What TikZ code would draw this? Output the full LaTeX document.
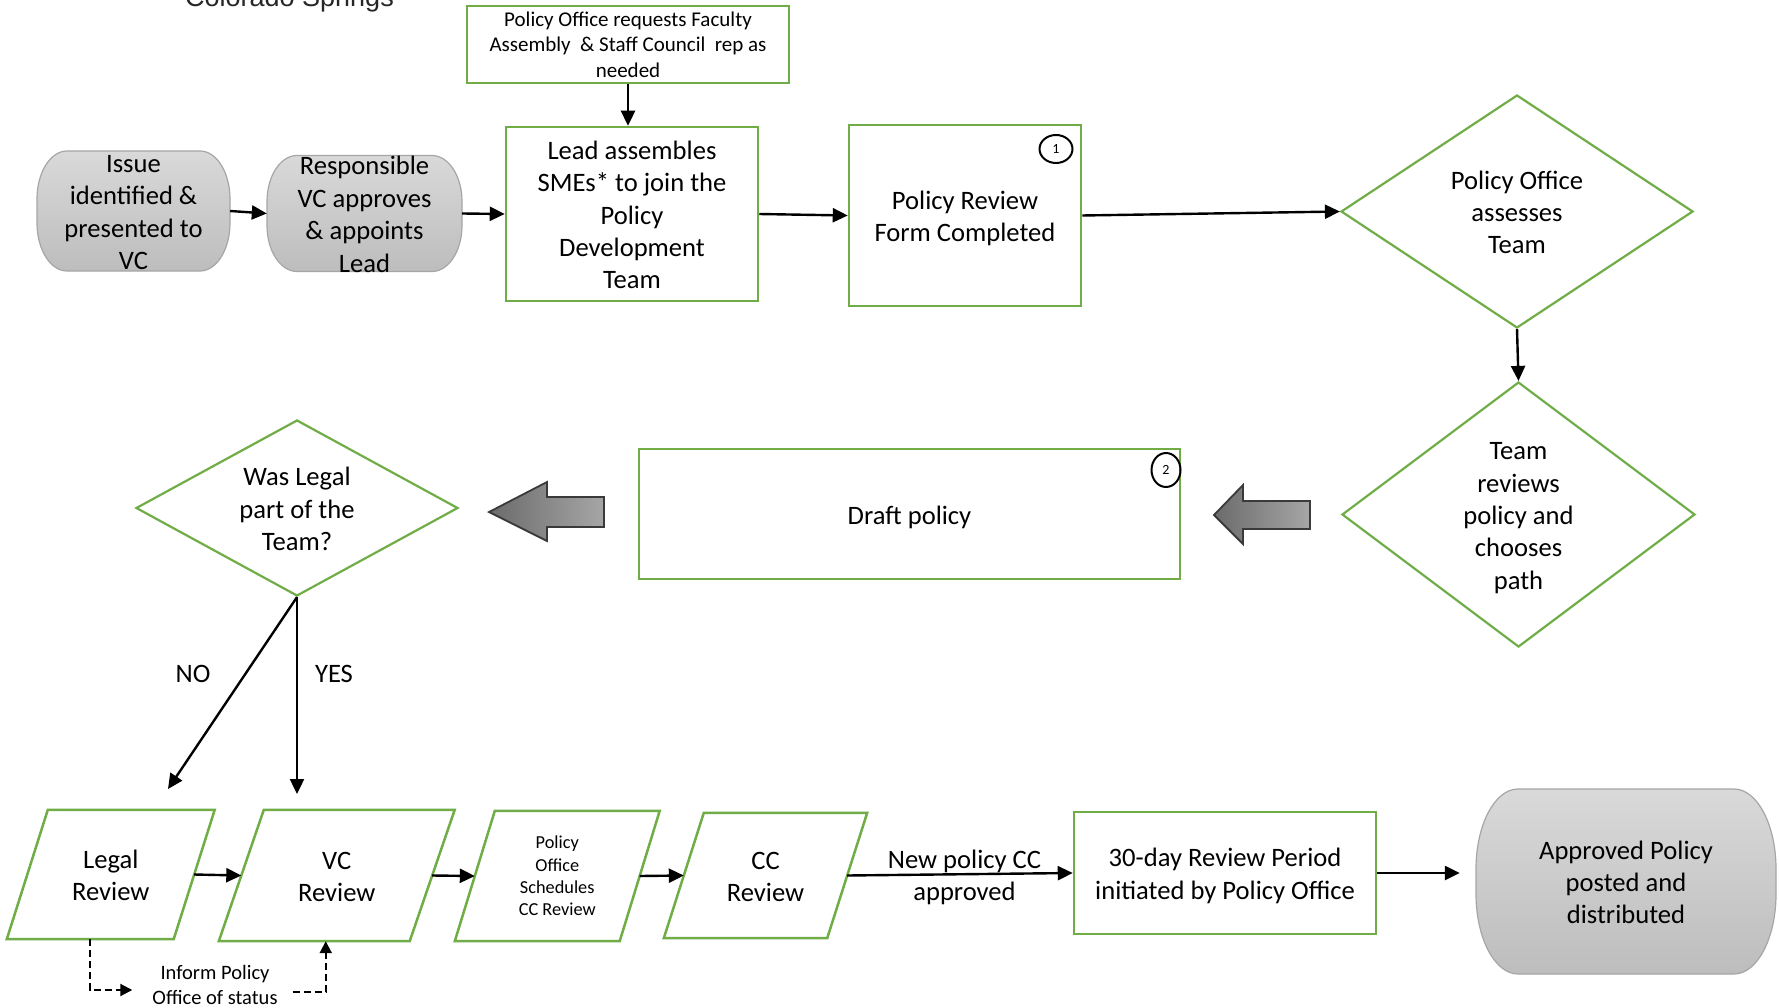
\documentclass[tikz,border=0pt]{standalone}
\usepackage{fontspec}
\setmainfont{Carlito}
\newfontfamily\arialfont{Liberation Sans}
\usetikzlibrary{shapes.geometric,arrows.meta,calc}
\pgfdeclarelayer{bg}
\pgfsetlayers{bg,main}
\definecolor{gr}{HTML}{70AD47}
\definecolor{termtop}{HTML}{D9D9D9}
\definecolor{termbot}{HTML}{BDBDBD}
\definecolor{termline}{HTML}{A6A6A6}
\definecolor{baleft}{HTML}{6B6B6B}
\definecolor{baright}{HTML}{A6A6A6}
\definecolor{baline}{HTML}{3A3A3A}
\definecolor{cstext}{HTML}{262626}
\newcommand\sk{\rule[-6pt]{0pt}{32pt}}
% name, half width, half height, rx, ry
\newcommand\termshape[5]{%
 \path[termsty]
  ($(#1.center)+({-#2+#4},{-#3})$) -- ($(#1.center)+({#2-#4},{-#3})$)
  .. controls ($(#1.center)+({#2-0.4477*#4},{-#3})$) and ($(#1.center)+({#2},{-#3+0.4477*#5})$) .. ($(#1.center)+({#2},{-#3+#5})$)
  -- ($(#1.center)+({#2},{#3-#5})$)
  .. controls ($(#1.center)+({#2},{#3-0.4477*#5})$) and ($(#1.center)+({#2-0.4477*#4},{#3})$) .. ($(#1.center)+({#2-#4},{#3})$)
  -- ($(#1.center)+({-#2+#4},{#3})$)
  .. controls ($(#1.center)+({-#2+0.4477*#4},{#3})$) and ($(#1.center)+({-#2},{#3-0.4477*#5})$) .. ($(#1.center)+({-#2},{#3-#5})$)
  -- ($(#1.center)+({-#2},{-#3+#5})$)
  .. controls ($(#1.center)+({-#2},{-#3+0.4477*#5})$) and ($(#1.center)+({-#2+0.4477*#4},{-#3})$) .. cycle;}
\newcommand\parashape[2]{%
 \draw[gline] ([xshift=#2pt]#1.north west) -- ([xshift=#2pt]#1.north east)
  -- ([xshift=-#2pt]#1.south east) -- ([xshift=-#2pt]#1.south west) -- cycle;}
\begin{document}
\begin{tikzpicture}[x=1pt,y=-1pt,
  base/.style={font=\fontsize{26.6}{32.4}\selectfont, align=center, inner sep=0pt},
  gbox/.style={base, draw=gr, line width=2.5pt},
  gdia/.style={base, diamond, draw=gr, line width=2.2pt},
  termsty/.style={draw=termline, line width=1.2pt, top color=termtop, bottom color=termbot},
  gline/.style={draw=gr, line width=2.5pt},
  conn/.style={line width=2.4pt, -{Triangle[length=15pt,width=14pt]}},
  dconn/.style={line width=2pt, dash pattern=on 7pt off 4pt, -{Triangle[length=12pt,width=12pt]}},
  numc/.style={ellipse, draw=black, line width=2pt, inner sep=0pt, font=\fontsize{14}{16}\selectfont},
  barrow/.style={draw=baline, line width=1.8pt, left color=baleft, right color=baright},
]
\useasboundingbox (0,0) rectangle (1779,1008);

\node[anchor=base west, font=\arialfont\fontsize{27}{32}\selectfont, text=cstext, inner sep=0pt] (cs) at (185,7) {Colorado Springs};

\node[gbox, minimum width=322pt, minimum height=77pt, font=\fontsize{21}{25.5}\selectfont] (topbox) at (628,44.5) {Policy Office requests Faculty\\Assembly~ \& Staff Council~ rep as\\needed};

\node[base, minimum width=193pt, minimum height=120pt] (issue) at (133.5,211) {\sk Issue\\identified \&\\presented to\\VC\sk};
\node[base, minimum width=195pt, minimum height=116pt] (resp) at (364.5,213.5) {\sk Responsible\\VC approves\\\& appoints\\Lead\sk};
\node[gbox, minimum width=252pt, minimum height=174pt] (lead) at (632,214) {\sk Lead assembles\\SMEs* to join the\\Policy\\Development\\Team\sk};
\node[gbox, minimum width=232pt, minimum height=181pt] (pr) at (965,215.5) {\sk Policy Review\\Form Completed\sk};
\node[numc, minimum width=33pt, minimum height=28pt] (n1) at (1056,149) {1};
\node[gdia, aspect=1.51, minimum width=352pt, minimum height=233pt] (d1) at (1517,211.5) {\sk Policy Office\\assesses\\Team\sk};
\node[gdia, aspect=1.33, minimum width=353pt, minimum height=265pt] (d2) at (1518.5,514.5) {\sk Team\\reviews\\policy and\\chooses\\path\sk};
\node[gbox, minimum width=541pt, minimum height=130pt] (draft) at (909.5,514) {\sk Draft policy\sk};
\node[numc, minimum width=29pt, minimum height=34pt] (n2) at (1166,470) {2};
\node[gdia, aspect=1.83, minimum width=322pt, minimum height=176pt] (d3) at (297,508) {\sk Was Legal\\part of the\\Team?\sk};

\node[base] (no) at (193,674) {NO};
\node[base] (yes) at (334,674) {YES};

\node[base, minimum width=166.5pt, minimum height=129pt] (legal) at (110.75,874.5) {\sk Legal\\Review\sk};
\node[base, minimum width=190.5pt, minimum height=131pt] (vc) at (336.75,875.5) {\sk VC\\Review\sk};
\node[base, minimum width=164.5pt, minimum height=130pt, font=\fontsize{18.3}{22.3}\selectfont] (pos) at (557.25,876) {Policy\\Office\\Schedules\\CC Review};
\node[base, minimum width=163pt, minimum height=125pt] (cc) at (765.5,875.5) {\sk CC\\Review\sk};
\node[gbox, minimum width=302pt, minimum height=122pt] (thirty) at (1225,873) {\sk 30-day Review Period\\initiated by Policy Office\sk};
\node[base, minimum width=300pt, minimum height=185pt] (appr) at (1626,881.5) {\sk Approved Policy\\posted and\\distributed\sk};
\node[base, font=\fontsize{20.5}{24.5}\selectfont] (inform) at (215,985) {Inform Policy\\Office of status};

\parashape{legal}{20.5}
\parashape{vc}{22.5}
\parashape{pos}{20}
\parashape{cc}{20}

\begin{pgfonlayer}{bg}
\fill[white] (0,0) rectangle (1779,1008);
\termshape{issue}{96.5}{60}{30}{48}
\termshape{resp}{97.5}{58}{30}{46}
\termshape{appr}{150}{92.5}{42}{80}
\end{pgfonlayer}

% block arrows
\path[barrow] (1214,515) -- (1243,485) -- (1243,501) -- (1310,501) -- (1310,529) -- (1243,529) -- (1243,544) -- cycle;
\path[barrow] (489,512) -- (547,482) -- (547,497) -- (604,497) -- (604,527) -- (547,527) -- (547,541) -- cycle;

% connectors
\draw[conn] (topbox.south) -- (topbox.south |- lead.north);
\draw[conn] (issue.east) -- (resp.west);
\draw[conn] (resp.east) -- (lead.west);
\draw[conn] (lead.east) -- (pr.west);
\draw[conn] (pr.east) -- (d1.west);
\draw[conn] (d1.south) -- (d2.north);
\coordinate (noend) at (168,789);
\coordinate (yesend) at (297,794);
\draw[conn] (d3.south) -- (noend);
\draw[conn] (d3.south) -- (yesend);
\draw[conn] (legal.east) -- (vc.west);
\draw[conn] (vc.east) -- (pos.west);
\draw[conn] (pos.east) -- (cc.west);
\draw[conn] (cc.east) -- node[base, pos=0.52] (ccl) {\sk New policy CC\\approved\sk} (thirty.west);
\draw[conn, shorten >=16pt] (thirty.east) -- (thirty.east -| appr.west);
\draw[dconn] ([xshift=-20.5pt]legal.south) |- ([xshift=-20pt,yshift=-5pt]inform.west);
\draw[dconn] ([xshift=15pt,yshift=-7pt]inform.east) -| ([xshift=-11pt]vc.south);
\end{tikzpicture}
\end{document}
